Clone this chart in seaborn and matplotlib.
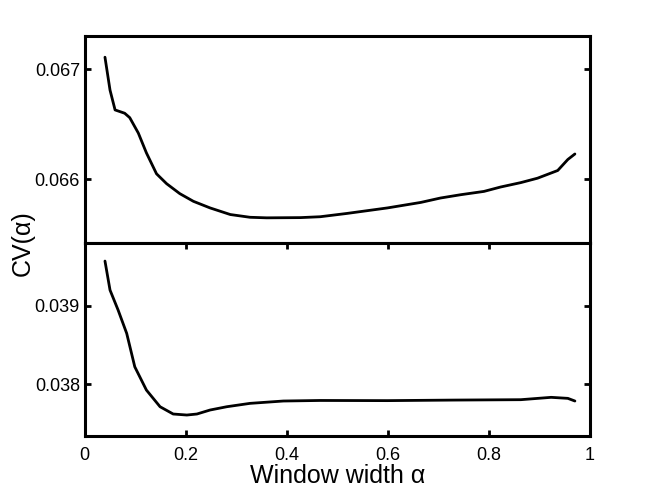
import matplotlib
matplotlib.use("Agg")
import matplotlib.pyplot as plt
import numpy as np
import pandas as pd
import seaborn as sns

# window width alpha for the two curves
alpha_top = [0.040, 0.050, 0.060, 0.079, 0.089, 0.106, 0.122, 0.142, 0.162, 0.188,
             0.215, 0.248, 0.288, 0.327, 0.360, 0.427, 0.466, 0.519, 0.559, 0.599,
             0.665, 0.704, 0.744, 0.790, 0.823, 0.863, 0.896, 0.936, 0.956, 0.970]
cv_top = [0.067109, 0.066810, 0.066630, 0.066600, 0.066560, 0.066420, 0.066240, 0.066050,
          0.065960, 0.065870, 0.065800, 0.065740, 0.065680, 0.065655, 0.065650, 0.065652,
          0.065660, 0.065690, 0.065715, 0.065740, 0.065790, 0.065830, 0.065860, 0.065890,
          0.065930, 0.065970, 0.066010, 0.066080, 0.066180, 0.066230]

alpha_bot = [0.040, 0.050, 0.066, 0.083, 0.099, 0.122, 0.149, 0.175, 0.202, 0.222,
             0.248, 0.281, 0.327, 0.393, 0.466, 0.599, 0.731, 0.863, 0.923, 0.956, 0.970]
cv_bot = [0.039571, 0.039200, 0.038945, 0.038647, 0.038220, 0.037923, 0.037710, 0.037617,
          0.037604, 0.037617, 0.037668, 0.037710, 0.037753, 0.037783, 0.037790, 0.037788,
          0.037795, 0.037800, 0.037830, 0.037817, 0.037783]

x_ticks = [0, 0.2, 0.4, 0.6, 0.8, 1]
x_ticklabels = ["0", "0.2", "0.4", "0.6", "0.8", "1"]
top_ticks = [0.066, 0.067]
bot_ticks = [0.038, 0.039]

sns.set_style("ticks", {"axes.edgecolor": "black", "xtick.color": "black",
                        "ytick.color": "black", "text.color": "black"})
plt.rcParams["font.family"] = ["Liberation Sans", "DejaVu Sans"]

fig = plt.figure(figsize=(6.52, 4.91), dpi=100)
ax1 = fig.add_axes([0.130, 0.505, 0.775, 0.422])
ax2 = fig.add_axes([0.130, 0.112, 0.775, 0.393], sharex=ax1)

df_top = pd.DataFrame({"alpha": alpha_top, "cv": cv_top})
df_bot = pd.DataFrame({"alpha": alpha_bot, "cv": cv_bot})
sns.lineplot(data=df_top, x="alpha", y="cv", ax=ax1, color="black", linewidth=2.0)
sns.lineplot(data=df_bot, x="alpha", y="cv", ax=ax2, color="black", linewidth=2.0)

ax1.set_xlim(0, 1)
ax1.set_ylim(0.065421, 0.067303)
ax2.set_ylim(0.037336, 0.039801)

for ax in (ax1, ax2):
    for s in ax.spines.values():
        s.set_linewidth(2.2)
        s.set_color("black")
        s.set_visible(True)
    ax.tick_params(direction="in", length=4, width=2, right=True, labelsize=13,
                   colors="black")
    ax.set_xlabel("")
    ax.set_ylabel("")

ax1.set_yticks(top_ticks)
ax1.set_yticklabels(["0.066", "0.067"])
ax2.set_yticks(bot_ticks)
ax2.set_yticklabels(["0.038", "0.039"])
ax1.tick_params(axis="x", bottom=False, labelbottom=False)
ax2.set_xticks(x_ticks)
ax2.set_xticklabels(x_ticklabels)
ax2.tick_params(axis="x", top=True, pad=8)

ax2.set_xlabel("Window width α", fontsize=18, labelpad=0, color="black")
fig.text(0.035, 0.505, "CV(α)", rotation=90, fontsize=18, va="center", ha="center",
         color="black")

fig.savefig("out.png", dpi=100, facecolor="white")
